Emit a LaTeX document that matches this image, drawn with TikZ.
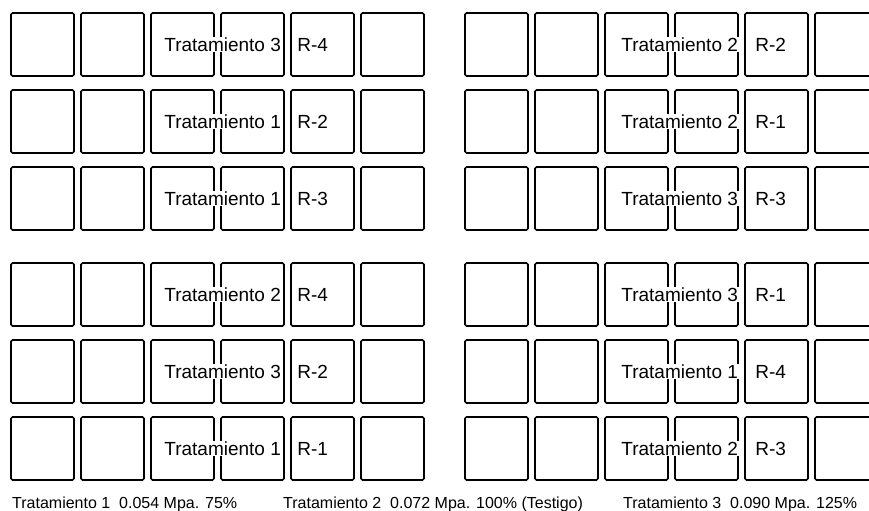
\documentclass[tikz,border=0pt]{standalone}
\usepackage{fontspec}
\setmainfont{Liberation Sans}

\begin{document}
\begin{tikzpicture}[x=1bp, y=-1bp, every node/.style={font=\fontsize{19bp}{22bp}\selectfont},
	parcela/.style={draw, line width=1.6bp, rounded corners=1.5bp, minimum width=63bp, minimum height=63bp, inner sep=0pt},
	trat/.style={fill=white, inner sep=1bp, anchor=west},
	rep/.style={inner sep=0pt, anchor=west},
	leyenda/.style={font=\fontsize{16bp}{19bp}\selectfont, anchor=base west, inner sep=0pt}]
	\useasboundingbox (0,0) rectangle (869,511);
	\clip (0,0) rectangle (869,511);
	% parcelas: dos bloques de 6 x 6
	\foreach \r/\y in {1/13, 2/90, 3/167, 4/263, 5/340, 6/417} {
		\foreach \c in {1,...,6} {
			\node[parcela] (L\r\c) at ({11+70*(\c-1)+31.5}, \y+31.5) {};
			\node[parcela] (R\r\c) at ({465+70*(\c-1)+31.5}, \y+31.5) {};
		}
	}
	% tratamientos y repeticiones
	\foreach \r/\t/\n in {1/3/4, 2/1/2, 3/1/3, 4/2/4, 5/3/2, 6/1/1} {
		\node[trat, xshift=13bp] (tL\r) at (L\r3.west) {Tratamiento \t};
		\node[rep, xshift=7bp] (nL\r) at (L\r5.west) {R-\n};
	}
	\foreach \r/\t/\n in {1/2/2, 2/2/1, 3/3/3, 4/3/1, 5/1/4, 6/2/3} {
		\node[trat, xshift=16bp] (tR\r) at (R\r3.west) {Tratamiento \t};
		\node[rep, xshift=11bp] (nR\r) at (R\r5.west) {R-\n};
	}
	% leyenda
	\node[leyenda] (ley1) at (12,508) {Tratamiento 1~ 0.054 Mpa. 75\%};
	\node[leyenda] (ley2) at (283,508) {Tratamiento 2~ 0.072 Mpa. 100\% (Testigo)};
	\node[leyenda] (ley3) at (623,508) {Tratamiento 3~ 0.090 Mpa. 125\%};
\end{tikzpicture}
\end{document}
